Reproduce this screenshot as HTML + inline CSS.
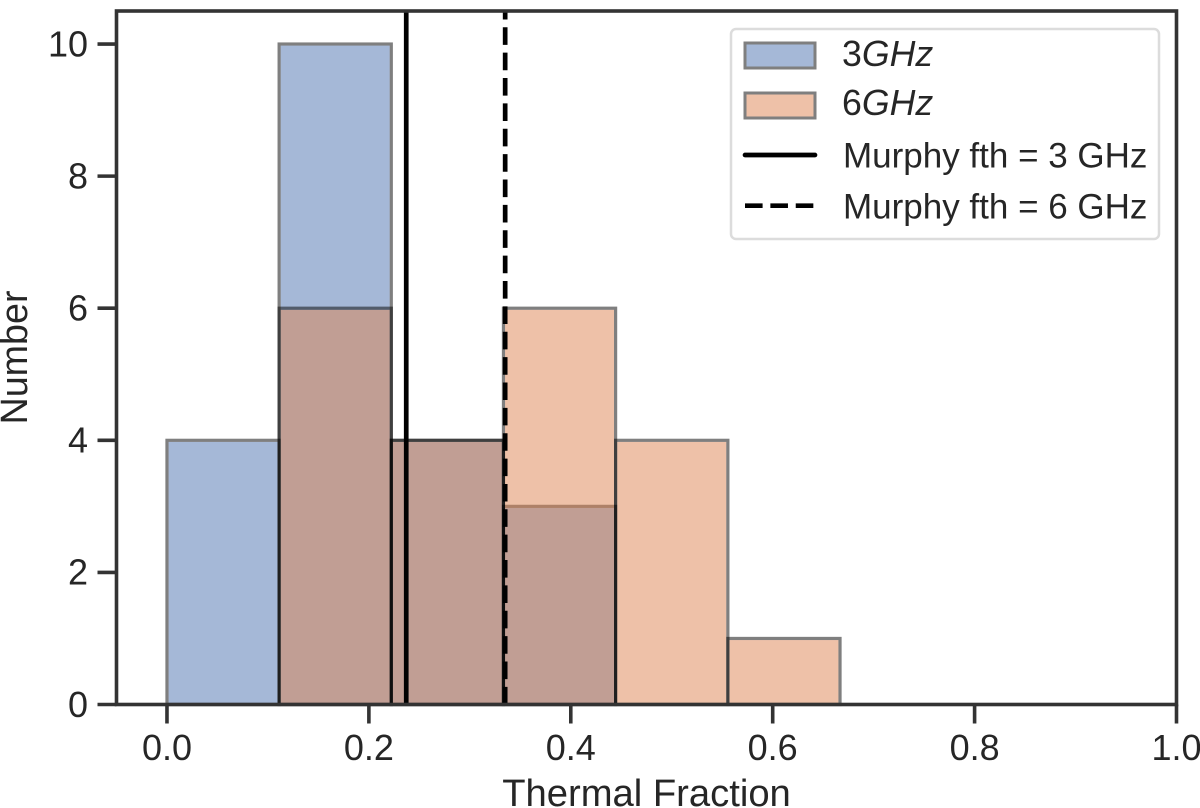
<!DOCTYPE html>
<html>
<head>
<meta charset="utf-8">
<style>
html,body{margin:0;padding:0;background:#fff;width:1200px;height:808px;overflow:hidden}
svg{display:block}
text{font-family:"Liberation Sans",Arial,sans-serif;fill:#262626}
</style>
</head>
<body>
<svg id="chart" width="1200" height="808" viewBox="0 0 1200 808" xmlns="http://www.w3.org/2000/svg"></svg>
<script>
const binEdges = [0, 0.1111, 0.2222, 0.3333, 0.4444, 0.5556, 0.6667];
const counts3GHz = [4, 10, 4, 3, 0, 0];
const counts6GHz = [0, 6, 4, 6, 4, 1];
const murphy3GHz = 0.237;
const murphy6GHz = 0.335;
const xTicks = [0.0, 0.2, 0.4, 0.6, 0.8, 1.0];
const yTicks = [0, 2, 4, 6, 8, 10];

const NS = 'http://www.w3.org/2000/svg';
const svg = document.getElementById('chart');
const plotL = 116.5, plotR = 1176.5, plotT = 11, plotB = 704.5;
const xMin = -0.05, xMax = 1.0, yMin = 0, yMax = 10.5;
function sx(v){ return plotL + (v - xMin) / (xMax - xMin) * (plotR - plotL); }
function sy(v){ return plotB - (v - yMin) / (yMax - yMin) * (plotB - plotT); }
function mk(tag, attrs, parent){
  const el = document.createElementNS(NS, tag);
  for (const k in attrs) el.setAttribute(k, attrs[k]);
  (parent || svg).appendChild(el);
  return el;
}

function drawBars(counts, color, seriesName){
  const g = mk('g', {});
  
  
  counts.forEach(function(c, i){
    if (c <= 0) return;
    const x0 = sx(binEdges[i]), x1 = sx(binEdges[i + 1]), y1 = sy(c);
    const r = mk('rect', {x:x0 + 1.6, y:y1 + 1.6, width:x1 - x0 - 3.2, height:sy(0) - y1 - 1.6, fill:color, 'fill-opacity':0.5}, g);
    
    
    const e = mk('rect', {x:x0, y:y1, width:x1 - x0, height:sy(0) - y1, fill:'none', stroke:'#000', 'stroke-opacity':0.5, 'stroke-width':3.2}, g);
    
    
  });
}
drawBars(counts3GHz, '#4c72b0', 'bars-3ghz');
drawBars(counts6GHz, '#dd8452', 'bars-6ghz');

const solidLine = mk('line', {x1:sx(murphy3GHz), x2:sx(murphy3GHz), y1:plotB, y2:plotT, stroke:'#000', 'stroke-width':4.7});


const dashedLine = mk('line', {x1:sx(murphy6GHz), x2:sx(murphy6GHz), y1:plotB, y2:plotT, stroke:'#000', 'stroke-width':4.7, 'stroke-dasharray':'17.6 7.77'});



const frame = mk('rect', {x:plotL, y:plotT, width:plotR - plotL, height:plotB - plotT, fill:'none', stroke:'#333', 'stroke-width':3.6});



xTicks.forEach(function(v){
  const t = mk('line', {x1:sx(v), x2:sx(v), y1:plotB, y2:plotB + 19, stroke:'#333', 'stroke-width':3.6});
  
  
  const l = mk('text', {x:sx(v), y:760, 'font-size':36, 'text-anchor':'middle'});
  l.textContent = v.toFixed(1);
  
  
});
yTicks.forEach(function(v){
  const t = mk('line', {x1:plotL - 19, x2:plotL, y1:sy(v), y2:sy(v), stroke:'#333', 'stroke-width':3.6});
  
  
  const l = mk('text', {x:88, y:sy(v) + 12.3, 'font-size':36, 'text-anchor':'end'});
  l.textContent = String(v);
  
  
});
</script>
<script>
(function(){
  const NS = 'http://www.w3.org/2000/svg';
  const svg = document.getElementById('chart');
  function add(tag, attrs, parent){
    const el = document.createElementNS(NS, tag);
    for (const k in attrs) el.setAttribute(k, attrs[k]);
    (parent || svg).appendChild(el);
    return el;
  }
  const xTitle = add('text', {x:646.5, y:806, 'font-size':38.2, 'text-anchor':'middle'});
  xTitle.textContent = 'Thermal Fraction';
  
  
  const yTitle = add('text', {transform:'translate(27,357.5) rotate(-90)', 'font-size':37.7, 'text-anchor':'middle'});
  yTitle.textContent = 'Number';
  
  

  const legend = add('g', {});
  
  
  const box = add('rect', {x:731, y:29, width:428, height:210, rx:5, ry:5, fill:'#fff', 'fill-opacity':0.8, stroke:'#dcdcdc', 'stroke-width':2.5}, legend);
  
  

  const s1f = add('rect', {x:746.5, y:44.5, width:67, height:22, fill:'#4c72b0', 'fill-opacity':0.5}, legend);
  
  
  const s1e = add('rect', {x:745, y:43, width:70, height:25, fill:'none', stroke:'#000', 'stroke-opacity':0.5, 'stroke-width':3}, legend);
  
  
  const s2f = add('rect', {x:746.5, y:94.5, width:67, height:22, fill:'#dd8452', 'fill-opacity':0.5}, legend);
  
  
  const s2e = add('rect', {x:745, y:93, width:70, height:25, fill:'none', stroke:'#000', 'stroke-opacity':0.5, 'stroke-width':3}, legend);
  
  
  const l1 = add('line', {x1:745, x2:815, y1:155, y2:155, stroke:'#000', 'stroke-width':4.7, 'stroke-linecap':'round'}, legend);
  
  
  const l2 = add('line', {x1:745, x2:815, y1:205.7, y2:205.7, stroke:'#000', 'stroke-width':4.7, 'stroke-dasharray':'17.6 7.77'}, legend);
  
  

  function ghzLabel(num, y, name){
    const t = add('text', {x:842, y:y, 'font-size':35.7}, legend);
    
    
    const a = add('tspan', {}, t);
    a.textContent = num;
    const b = add('tspan', {'font-style':'italic'}, t);
    b.textContent = 'GHz';
  }
  ghzLabel('3', 66, 'legend-label-3ghz');
  ghzLabel('6', 115, 'legend-label-6ghz');

  const m1 = add('text', {x:843, y:167.5, 'font-size':35}, legend);
  m1.textContent = 'Murphy fth = 3 GHz';
  
  
  const m2 = add('text', {x:843, y:218.5, 'font-size':35}, legend);
  m2.textContent = 'Murphy fth = 6 GHz';
  
  
})();
</script>
</body>
</html>
